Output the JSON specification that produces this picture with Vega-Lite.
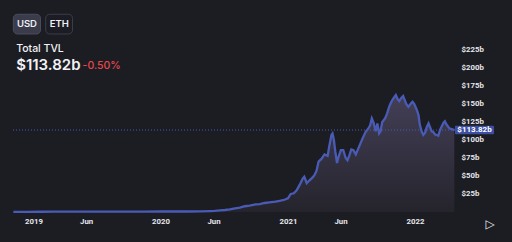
{
  "$schema": "https://vega.github.io/schema/vega-lite/v6.json",
  "width": 442,
  "height": 212,
  "autosize": {"type": "none"},
  "padding": {"left": 13, "top": 0, "right": 57, "bottom": 30},
  "background": "#1c1d23",
  "config": {
    "view": {"stroke": null},
    "font": "Inter",
    "axis": {"labelOverlap": false, "labelFlush": false}
  },
  "resolve": {"axis": {"x": "independent", "y": "independent"}},
  "layer": [
    {
      "data": {"name": "tvl", "values": [
        {"date": "2018-11-04", "tvl": 0.25},
        {"date": "2018-12-15", "tvl": 0.3},
        {"date": "2019-01-23", "tvl": 0.35},
        {"date": "2019-03-01", "tvl": 0.45},
        {"date": "2019-04-19", "tvl": 0.55},
        {"date": "2019-06-01", "tvl": 0.6},
        {"date": "2019-07-14", "tvl": 0.65},
        {"date": "2019-09-01", "tvl": 0.6},
        {"date": "2019-10-07", "tvl": 0.6},
        {"date": "2019-11-15", "tvl": 0.65},
        {"date": "2020-01-01", "tvl": 0.7},
        {"date": "2020-02-27", "tvl": 0.9},
        {"date": "2020-03-20", "tvl": 0.7},
        {"date": "2020-04-24", "tvl": 0.9},
        {"date": "2020-05-23", "tvl": 1.3},
        {"date": "2020-06-05", "tvl": 1.6},
        {"date": "2020-06-20", "tvl": 2.2},
        {"date": "2020-07-04", "tvl": 2.8},
        {"date": "2020-07-18", "tvl": 3.6},
        {"date": "2020-08-02", "tvl": 5},
        {"date": "2020-08-16", "tvl": 6},
        {"date": "2020-08-30", "tvl": 8},
        {"date": "2020-09-13", "tvl": 9},
        {"date": "2020-09-30", "tvl": 10.5},
        {"date": "2020-10-12", "tvl": 11},
        {"date": "2020-10-26", "tvl": 12.5},
        {"date": "2020-11-09", "tvl": 13.5},
        {"date": "2020-11-26", "tvl": 14.5},
        {"date": "2020-12-08", "tvl": 15.5},
        {"date": "2020-12-22", "tvl": 17},
        {"date": "2021-01-01", "tvl": 19},
        {"date": "2021-01-09", "tvl": 25},
        {"date": "2021-01-18", "tvl": 26},
        {"date": "2021-01-26", "tvl": 30},
        {"date": "2021-02-04", "tvl": 38},
        {"date": "2021-02-12", "tvl": 46},
        {"date": "2021-02-17", "tvl": 49},
        {"date": "2021-02-24", "tvl": 40},
        {"date": "2021-03-04", "tvl": 44},
        {"date": "2021-03-13", "tvl": 48},
        {"date": "2021-03-19", "tvl": 52},
        {"date": "2021-03-24", "tvl": 57},
        {"date": "2021-03-30", "tvl": 70},
        {"date": "2021-04-08", "tvl": 74},
        {"date": "2021-04-16", "tvl": 80},
        {"date": "2021-04-25", "tvl": 78},
        {"date": "2021-04-30", "tvl": 92},
        {"date": "2021-05-06", "tvl": 107},
        {"date": "2021-05-09", "tvl": 109},
        {"date": "2021-05-13", "tvl": 100},
        {"date": "2021-05-17", "tvl": 84},
        {"date": "2021-05-22", "tvl": 68},
        {"date": "2021-05-26", "tvl": 76},
        {"date": "2021-06-02", "tvl": 86},
        {"date": "2021-06-09", "tvl": 86},
        {"date": "2021-06-16", "tvl": 75},
        {"date": "2021-06-21", "tvl": 72},
        {"date": "2021-06-26", "tvl": 78},
        {"date": "2021-07-02", "tvl": 87},
        {"date": "2021-07-08", "tvl": 86},
        {"date": "2021-07-15", "tvl": 80},
        {"date": "2021-07-22", "tvl": 88},
        {"date": "2021-07-29", "tvl": 96},
        {"date": "2021-08-05", "tvl": 104},
        {"date": "2021-08-12", "tvl": 111},
        {"date": "2021-08-20", "tvl": 116},
        {"date": "2021-08-25", "tvl": 120},
        {"date": "2021-08-30", "tvl": 130},
        {"date": "2021-09-04", "tvl": 124},
        {"date": "2021-09-10", "tvl": 112},
        {"date": "2021-09-15", "tvl": 123},
        {"date": "2021-09-20", "tvl": 109},
        {"date": "2021-09-24", "tvl": 112},
        {"date": "2021-09-29", "tvl": 125},
        {"date": "2021-10-07", "tvl": 130},
        {"date": "2021-10-13", "tvl": 137},
        {"date": "2021-10-18", "tvl": 145},
        {"date": "2021-10-23", "tvl": 151},
        {"date": "2021-10-30", "tvl": 157},
        {"date": "2021-11-07", "tvl": 162.5},
        {"date": "2021-11-13", "tvl": 156},
        {"date": "2021-11-17", "tvl": 154},
        {"date": "2021-11-22", "tvl": 158},
        {"date": "2021-11-28", "tvl": 161},
        {"date": "2021-12-03", "tvl": 155},
        {"date": "2021-12-07", "tvl": 150},
        {"date": "2021-12-13", "tvl": 146},
        {"date": "2021-12-19", "tvl": 150},
        {"date": "2021-12-25", "tvl": 153},
        {"date": "2021-12-30", "tvl": 150},
        {"date": "2022-01-06", "tvl": 142},
        {"date": "2022-01-11", "tvl": 135},
        {"date": "2022-01-15", "tvl": 121},
        {"date": "2022-01-20", "tvl": 112},
        {"date": "2022-01-25", "tvl": 107},
        {"date": "2022-01-30", "tvl": 110},
        {"date": "2022-02-04", "tvl": 118},
        {"date": "2022-02-09", "tvl": 123},
        {"date": "2022-02-13", "tvl": 118},
        {"date": "2022-02-18", "tvl": 112},
        {"date": "2022-02-23", "tvl": 111},
        {"date": "2022-02-27", "tvl": 108},
        {"date": "2022-03-04", "tvl": 107},
        {"date": "2022-03-09", "tvl": 106},
        {"date": "2022-03-14", "tvl": 114},
        {"date": "2022-03-19", "tvl": 119},
        {"date": "2022-03-24", "tvl": 124},
        {"date": "2022-03-28", "tvl": 126},
        {"date": "2022-04-01", "tvl": 122},
        {"date": "2022-04-07", "tvl": 118},
        {"date": "2022-04-11", "tvl": 116},
        {"date": "2022-04-17", "tvl": 115},
        {"date": "2022-04-24", "tvl": 113.82}
      ]},
      "resolve": {"axis": {"x": "independent", "y": "independent"}},
      "layer": [
        {
          "mark": {
            "type": "area",
            "interpolate": "linear",
            "color": {
              "gradient": "linear",
              "x1": 0, "y1": 0, "x2": 0, "y2": 1,
              "stops": [
                {"offset": 0, "color": "#433f57"},
                {"offset": 1, "color": "#25242c"}
              ]
            }
          },
          "encoding": {
            "x": {
              "field": "date", "type": "temporal",
              "scale": {"type": "utc", "domain": [
                {"year": 2018, "month": 11, "date": 3, "utc": true},
                {"year": 2022, "month": 4, "date": 26, "utc": true}
              ]},
              "axis": {
                "title": null, "domain": false, "ticks": false, "grid": false,
                "values": [
                  {"year": 2019, "month": 1, "date": 1, "utc": true},
                  {"year": 2019, "month": 6, "date": 1, "utc": true},
                  {"year": 2020, "month": 1, "date": 1, "utc": true},
                  {"year": 2020, "month": 6, "date": 1, "utc": true},
                  {"year": 2021, "month": 1, "date": 1, "utc": true},
                  {"year": 2021, "month": 6, "date": 1, "utc": true},
                  {"year": 2022, "month": 1, "date": 1, "utc": true}
                ],
                "labelExpr": "utcFormat(datum.value, '%m') == '01' ? utcFormat(datum.value, '%Y') : utcFormat(datum.value, '%b')",
                "labelColor": "#e6e6ea", "labelFont": "Roboto", "labelFontSize": 7.8,
                "labelFontWeight": "bold", "labelPadding": 5, "labelFlush": false, "labelOverlap": false
              }
            },
            "y": {
              "field": "tvl", "type": "quantitative",
              "scale": {"domain": [0, 294.4], "nice": false, "zero": true},
              "axis": {
                "title": null, "orient": "right", "domain": false, "ticks": false, "grid": false,
                "values": [25, 50, 75, 100, 125, 150, 175, 200, 225],
                "labelExpr": "'$' + datum.value + 'b'",
                "labelColor": "#e6e6ea", "labelFont": "Roboto", "labelFontSize": 7.8,
                "labelFontWeight": "bold", "labelPadding": 6, "labelOverlap": false, "labelFlush": false
              }
            }
          }
        },
        {
          "mark": {"type": "line", "interpolate": "linear", "color": "#4a5bb5", "strokeWidth": 2.3},
          "encoding": {
            "x": {"field": "date", "type": "temporal", "axis": null},
            "y": {"field": "tvl", "type": "quantitative", "axis": null}
          }
        }
      ]
    },
    {
      "data": {"values": [{}]},
      "mark": {"type": "rule", "color": "#4a5bb5", "strokeWidth": 1, "strokeDash": [1, 2]},
      "encoding": {"y": {"datum": 113.82, "type": "quantitative", "axis": null}}
    },
    {
      "data": {"values": [{}]},
      "mark": {"type": "rect", "color": "#3e4fa3", "cornerRadius": 1},
      "encoding": {
        "x": {"datum": {"year": 2022, "month": 4, "date": 26, "utc": true}, "type": "temporal", "axis": null},
        "x2": {"datum": {"year": 2022, "month": 8, "date": 16, "utc": true}},
        "y": {"datum": 119.9, "type": "quantitative", "axis": null},
        "y2": {"datum": 107.9}
      }
    },
    {
      "data": {"values": [{}]},
      "mark": {"type": "text", "text": "$113.82b", "color": "#ffffff", "font": "Roboto", "fontSize": 8, "fontWeight": "bold", "align": "center", "baseline": "middle"},
      "encoding": {
        "x": {"datum": {"year": 2022, "month": 6, "date": 21, "utc": true}, "type": "temporal", "axis": null},
        "y": {"datum": 113.82, "type": "quantitative", "axis": null}
      }
    },
    {
      "data": {"values": [{}]},
      "mark": {"type": "rect", "color": "#3a3c4c", "stroke": "#4a4c5e", "strokeWidth": 1, "cornerRadius": 4},
      "encoding": {
        "x": {"datum": {"year": 2018, "month": 11, "date": 4, "utc": true}, "type": "temporal", "axis": null},
        "x2": {"datum": {"year": 2019, "month": 1, "date": 21, "utc": true}},
        "y": {"datum": 274.6, "type": "quantitative", "axis": null},
        "y2": {"datum": 247.2}
      }
    },
    {
      "data": {"values": [{}]},
      "mark": {"type": "rect", "color": "#1c1d24", "stroke": "#3b3d4b", "strokeWidth": 1, "cornerRadius": 4},
      "encoding": {
        "x": {"datum": {"year": 2019, "month": 2, "date": 5, "utc": true}, "type": "temporal", "axis": null},
        "x2": {"datum": {"year": 2019, "month": 4, "date": 23, "utc": true}},
        "y": {"datum": 274.6, "type": "quantitative", "axis": null},
        "y2": {"datum": 247.2}
      }
    },
    {
      "data": {"values": [{}]},
      "mark": {"type": "text", "text": "USD", "color": "#eeeef4", "fontSize": 9.5, "fontWeight": 600, "align": "center", "baseline": "middle"},
      "encoding": {
        "x": {"datum": {"year": 2018, "month": 12, "date": 13, "utc": true}, "type": "temporal", "axis": null},
        "y": {"datum": 260.4, "type": "quantitative", "axis": null}
      }
    },
    {
      "data": {"values": [{}]},
      "mark": {"type": "text", "text": "ETH", "color": "#eeeef4", "fontSize": 9.5, "fontWeight": 600, "align": "center", "baseline": "middle"},
      "encoding": {
        "x": {"datum": {"year": 2019, "month": 3, "date": 16, "utc": true}, "type": "temporal", "axis": null},
        "y": {"datum": 260.4, "type": "quantitative", "axis": null}
      }
    },
    {
      "data": {"values": [{}]},
      "mark": {"type": "text", "text": "Total TVL", "color": "#f2f2f6", "fontSize": 10.5, "fontWeight": 500, "align": "left", "baseline": "alphabetic"},
      "encoding": {
        "x": {"datum": {"year": 2018, "month": 11, "date": 12, "utc": true}, "type": "temporal", "axis": null},
        "y": {"datum": 221.8, "type": "quantitative", "axis": null}
      }
    },
    {
      "data": {"values": [{}]},
      "mark": {"type": "text", "text": "$113.82b", "color": "#f2f2f6", "fontSize": 15, "fontWeight": 600, "align": "left", "baseline": "alphabetic"},
      "encoding": {
        "x": {"datum": {"year": 2018, "month": 11, "date": 12, "utc": true}, "type": "temporal", "axis": null},
        "y": {"datum": 196.5, "type": "quantitative", "axis": null}
      }
    },
    {
      "data": {"values": [{}]},
      "mark": {"type": "text", "text": "-0.50%", "color": "#e5484d", "fontSize": 10.5, "fontWeight": 500, "align": "left", "baseline": "alphabetic"},
      "encoding": {
        "x": {"datum": {"year": 2019, "month": 5, "date": 22, "utc": true}, "type": "temporal", "axis": null},
        "y": {"datum": 197.9, "type": "quantitative", "axis": null}
      }
    },
    {
      "data": {"values": [{}]},
      "mark": {"type": "text", "text": "▷", "color": "#e6e6ea", "font": "DejaVu Sans", "fontSize": 12, "align": "center", "baseline": "middle"},
      "encoding": {
        "x": {"datum": {"year": 2022, "month": 8, "date": 5, "utc": true}, "type": "temporal", "axis": null},
        "y": {"datum": -16.7, "type": "quantitative", "axis": null}
      }
    }
  ]
}
